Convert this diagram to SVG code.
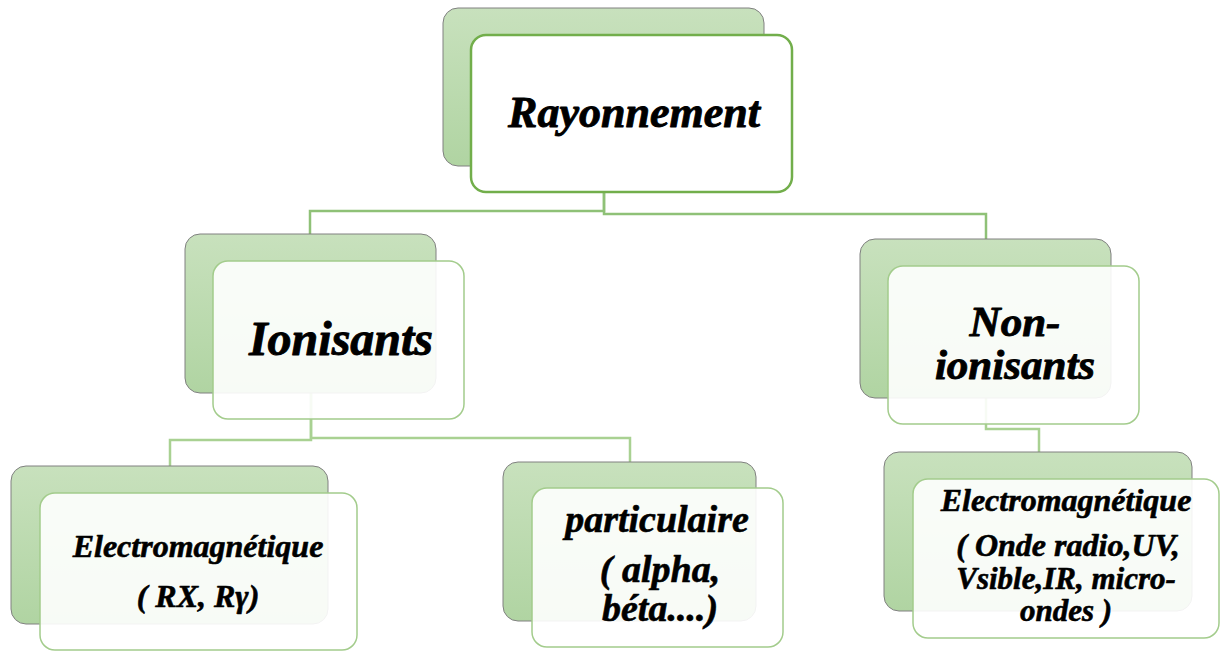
<svg xmlns="http://www.w3.org/2000/svg" width="1223" height="651" viewBox="0 0 1223 651">
<defs>
<linearGradient id="gb" x1="0" y1="0" x2="0" y2="1">
<stop offset="0" stop-color="#c8e1bd"/>
<stop offset="1" stop-color="#b0d4a2"/>
</linearGradient>
<style>
.back{fill:url(#gb);stroke:#808080;stroke-width:1}
.front{fill:#ffffff;fill-opacity:0.9;stroke:#a3cc8c;stroke-width:1.5}
.fronttop{fill:#ffffff;stroke:#72ae4b;stroke-width:2.5}
.c1{fill:none;stroke:#8fc177;stroke-width:2.5}
.c2{fill:none;stroke:#a9d192;stroke-width:2.5}
text{font-family:"Liberation Serif","Times New Roman",serif;font-weight:bold;font-style:italic;fill:#000;stroke:#000;stroke-width:0.9;stroke-linejoin:round;text-anchor:middle}
.s{stroke-width:0.6}
</style>
</defs>
<rect width="1223" height="651" fill="#ffffff"/>
<g id="connectors">
<path class="c1" d="M604,192 V211 H310 V234"/>
<path class="c1" d="M604,192 V214 H986 V239"/>
<path class="c2" d="M311,393 V440 H170 V466"/>
<path class="c2" d="M311,393 V438 H630 V462"/>
<path class="c2" d="M986,398 V429 H1039 V452"/>
</g>
<g id="rayonnement">
<rect class="back" x="443" y="8" width="321" height="158" rx="15"/>
<rect class="fronttop" x="471" y="35" width="321" height="157" rx="15"/>
<text x="634" y="127" font-size="44">Rayonnement</text>
</g>
<g id="ionisants">
<rect class="back" x="185" y="234" width="251" height="159" rx="15"/>
<rect class="front" x="213" y="261" width="251" height="158" rx="15"/>
<text x="341" y="355" font-size="48">Ionisants</text>
</g>
<g id="non-ionisants">
<rect class="back" x="860" y="239" width="251" height="159" rx="15"/>
<rect class="front" x="888" y="266" width="251" height="158" rx="15"/>
<text x="1015" y="336" font-size="43">Non-</text>
<text x="1015" y="379" font-size="43">ionisants</text>
</g>
<g id="em-ionisant">
<rect class="back" x="11" y="466" width="317" height="158" rx="15"/>
<rect class="front" x="40" y="493" width="317" height="157" rx="15"/>
<text class="s" x="198" y="557" font-size="32">Electromagnétique</text>
<text class="s" x="198" y="607" font-size="32">( RX, Rγ)</text>
</g>
<g id="particulaire">
<rect class="back" x="503" y="462" width="253" height="159" rx="15"/>
<rect class="front" x="532" y="488" width="251" height="159" rx="15"/>
<text class="s" x="657" y="532" font-size="38">particulaire</text>
<text class="s" x="660" y="582" font-size="38">( alpha,</text>
<text class="s" x="660" y="621" font-size="38">béta....)</text>
</g>
<g id="em-non-ionisant">
<rect class="back" x="884" y="452" width="308" height="159" rx="15"/>
<rect class="front" x="913" y="479" width="306" height="159" rx="15"/>
<text class="s" x="1066" y="511" font-size="32">Electromagnétique</text>
<text class="s" x="1068" y="556" font-size="32">( Onde radio,UV,</text>
<text class="s" x="1066" y="589" font-size="31">Vsible,IR, micro-</text>
<text class="s" x="1066" y="621" font-size="31">ondes )</text>
</g>
</svg>
